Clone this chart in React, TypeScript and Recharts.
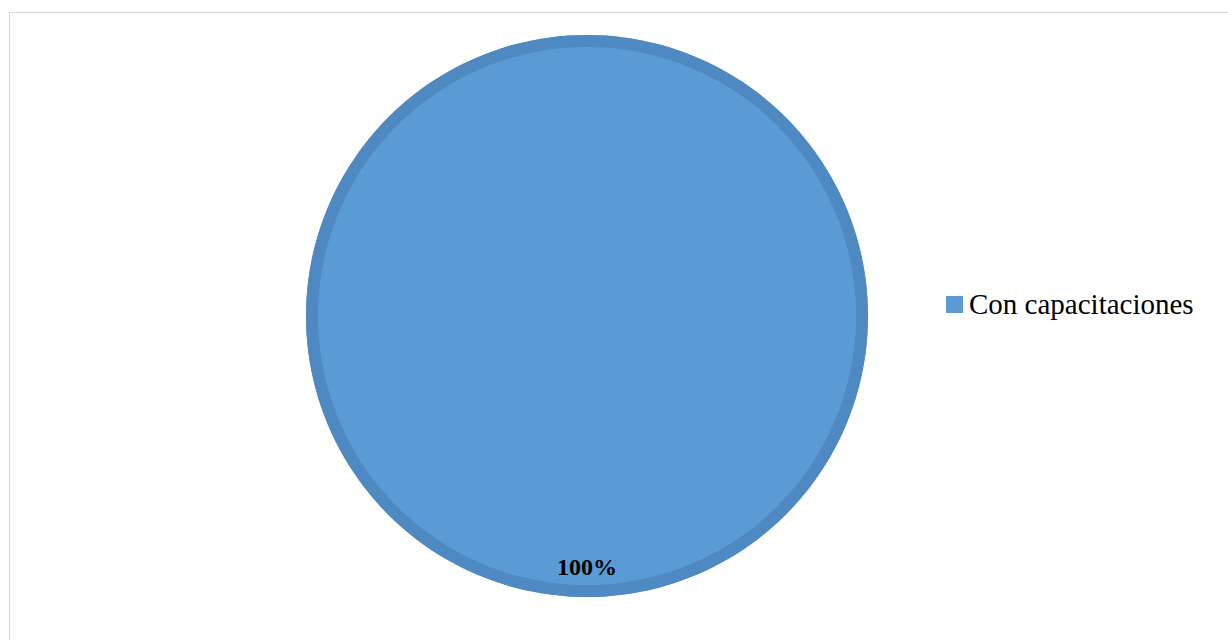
import { PieChart, Pie, Cell, Legend } from "recharts";

const categories = ["Con capacitaciones"];
const values = [100];
const colors = ["#5b9bd5"];
const borderColors = ["#4f89c2"];

const data = categories.map((name, i) => ({ name, value: values[i] }));

const renderLabel = (props: any) => {
  const { cx, cy, midAngle, outerRadius, percent } = props;
  const RAD = Math.PI / 180;
  const r = outerRadius * 0.895;
  const x = cx + r * Math.cos(-midAngle * RAD);
  const y = cy + r * Math.sin(-midAngle * RAD);
  return (
    <text
      x={x}
      y={y}
      textAnchor="middle"
      dominantBaseline="central"
      fill="#000"
      fontFamily="'Liberation Serif', 'Times New Roman', serif"
      fontWeight="bold"
      fontSize={24}
    >
      {`${Math.round(percent * 100)}%`}
    </text>
  );
};

const renderLegend = () => (
  <div style={{ display: "flex", flexDirection: "column" }}>
    {data.map((d, i) => (
      <div key={d.name} style={{ display: "flex", alignItems: "center" }}>
        <span
          style={{
            display: "inline-block",
            width: 17,
            height: 17,
            background: colors[i],
            marginRight: 6,
          }}
        />
        <span
          style={{
            fontFamily: "'Liberation Serif', 'Times New Roman', serif",
            fontSize: 29,
            color: "#000",
          }}
        >
          {d.name}
        </span>
      </div>
    ))}
  </div>
);

export default function App() {
  return (
    <div
      style={{
        position: "absolute",
        left: 0,
        top: 0,
        width: 1228,
        height: 640,
        background: "#fff",
        overflow: "hidden",
      }}
    >
      <div
        style={{
          position: "absolute",
          left: 9,
          top: 12,
          width: 1240,
          height: 660,
          border: "1px solid #d9d9d9",
        }}
      />
      <div style={{ position: "absolute", left: 0, top: 0 }}>
        <PieChart
          width={1228}
          height={640}
          margin={{ top: 0, right: 0, bottom: 0, left: 0 }}
        >
          <Pie
            data={data}
            dataKey="value"
            nameKey="name"
            cx={587}
            cy={316}
            outerRadius={281}
            startAngle={90}
            endAngle={-270}
            stroke="none"
            label={renderLabel}
            labelLine={false}
            isAnimationActive={false}
          >
            {data.map((d, i) => (
              <Cell key={d.name} fill={colors[i]} />
            ))}
          </Pie>
          <Pie
            data={data}
            dataKey="value"
            nameKey="name"
            cx={587}
            cy={316}
            innerRadius={269}
            outerRadius={281}
            startAngle={90}
            endAngle={-270}
            stroke="none"
            legendType="none"
            isAnimationActive={false}
          >
            {data.map((d, i) => (
              <Cell key={d.name} fill={borderColors[i]} />
            ))}
          </Pie>
          <Legend
            layout="vertical"
            align="right"
            verticalAlign="top"
            content={renderLegend}
            wrapperStyle={{ left: 946, top: 288, width: 280 }}
          />
        </PieChart>
      </div>
    </div>
  );
}
